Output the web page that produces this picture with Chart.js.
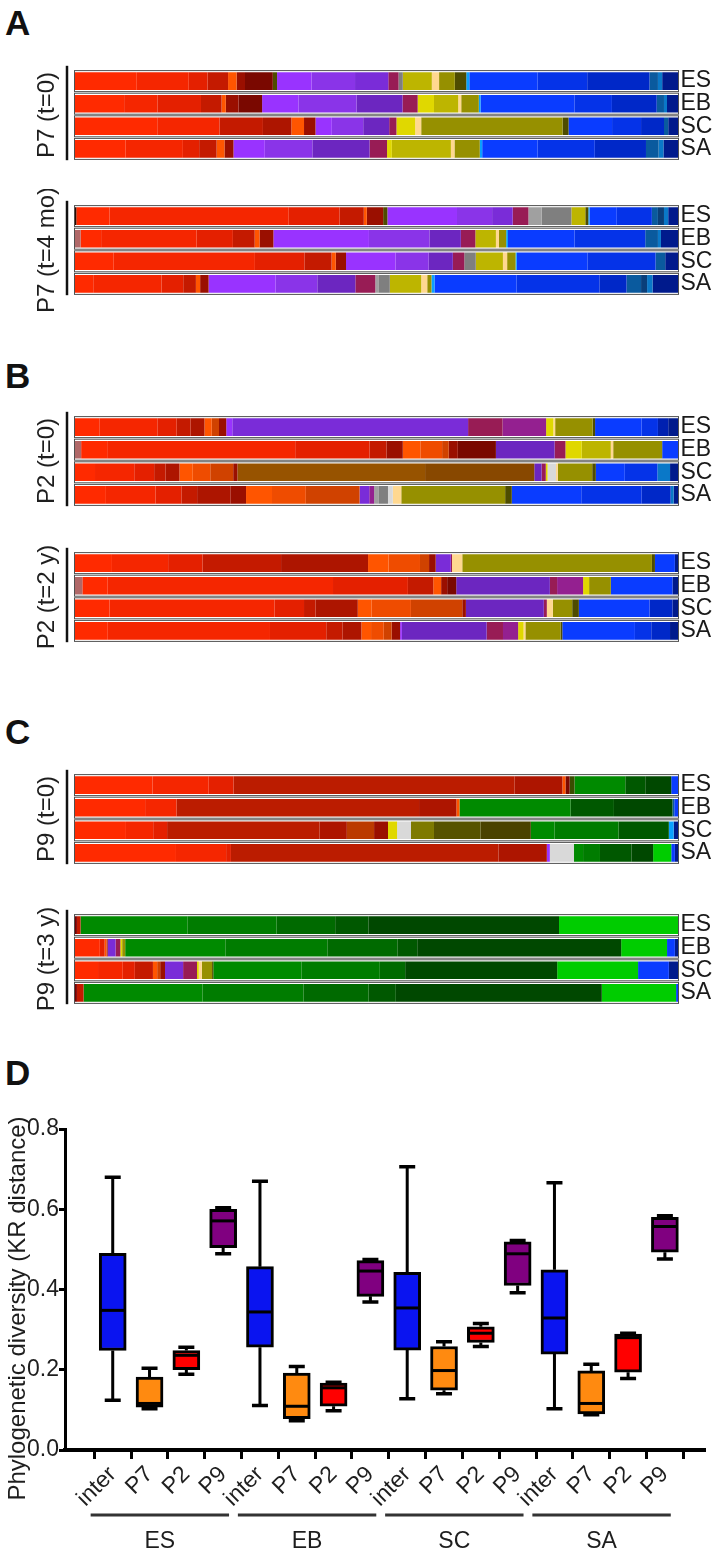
<!DOCTYPE html>
<html>
<head>
<meta charset="utf-8">
<script src="https://cdn.jsdelivr.net/npm/chart.js@4.4.1/dist/chart.umd.min.js"></script>
<style>
  body { margin: 0; background: #fff; }
  #page { position: relative; width: 717px; height: 1557px; overflow: hidden; }
  canvas { position: absolute; left: 0; }
  .panel { position: absolute; left: 5px; font: bold 35px "Liberation Sans", Arial, sans-serif; line-height: 35px; color: #111; }
</style>
</head>
<body>
<div id="page">
  <div class="panel" style="top:5px">A</div>
  <div class="panel" style="top:358px">B</div>
  <div class="panel" style="top:714px">C</div>
  <div class="panel" style="top:1055px">D</div>
  <canvas id="gA1" width="717" height="122" style="top:54px"></canvas>
  <canvas id="gA2" width="717" height="122" style="top:189px"></canvas>
  <canvas id="gB1" width="717" height="122" style="top:400px"></canvas>
  <canvas id="gB2" width="717" height="122" style="top:536px"></canvas>
  <canvas id="gC1" width="717" height="122" style="top:758px"></canvas>
  <canvas id="gC2" width="717" height="122" style="top:898px"></canvas>
  <canvas id="boxD" width="717" height="467" style="top:1090px"></canvas>
</div>
<script>
// ---- panels A-C: relative abundance per taxon (rows ES, EB, SC, SA) ----
const rowLabels = ["ES", "EB", "SC", "SA"];

const palette = {
  r1: "#ff2a00", r2: "#f52600", r3: "#e42000", r4: "#c41a00", r5: "#ad1500", r6: "#9a0f00",
  mr: "#7a0800", rb: "#bb1c00", dr: "#7a0000", dk: "#2a0a00", gb: "#b06868",
  o1: "#ff5500", o2: "#ef4c00", o3: "#d04200", rs: "#bb3a00",
  p1: "#9933ff", p2: "#8a34e8", p3: "#7a2cd8", p4: "#6c26c0", mg: "#981c55", mp: "#942090",
  gy: "#7f7f7f", lg: "#a0a0a0", vl: "#d9d9d9",
  y1: "#e0d800", y2: "#bdb500", cr: "#ffd890", ol: "#969000", do: "#4e4c00",
  ko: "#7e7a00", d2: "#575300", d3: "#4a4200", gd: "#3a4d00", br: "#975300", br2: "#884800",
  cy: "#0aa0ff", b1: "#0a3cff", b2: "#0533e8", b3: "#0028c8", b4: "#0020b0",
  st: "#0a5a9e", s2: "#0a78c8", dst: "#0a3f7a", nv: "#001a8c",
  g1: "#008a00", g2: "#007c00", g3: "#006a00", g4: "#005800", g5: "#004800", gl: "#00cc00"
};

// P7 (t=0)
const p7t0Widths = [
  [10.3, 8.6, 3.1, 3.4, 1.4, 1.4, 4.6, 0.7, 5.7, 7.2, 5.5, 1.7, 0.7, 4.8, 1.2, 2.6, 1.9, 0.5, 11.3, 8.2, 10.3, 1.4, 0.7, 2.7],
  [8.2, 5.5, 7.2, 3.4, 0.7, 2.1, 3.9, 6.0, 9.6, 7.6, 2.5, 2.7, 4.0, 0.5, 2.9, 0.3, 15.5, 6.2, 7.4, 1.2, 0.5, 1.9],
  [13.7, 10.3, 7.2, 4.7, 2.1, 1.9, 2.7, 5.2, 4.3, 1.2, 3.1, 1.0, 23.4, 1.0, 7.2, 4.8, 3.8, 0.7, 1.7],
  [8.5, 9.5, 2.7, 2.9, 1.3, 1.5, 5.2, 7.9, 9.5, 2.9, 0.8, 9.8, 0.6, 4.2, 0.4, 9.2, 9.5, 8.5, 2.1, 0.8, 2.5]
];
const p7t0Taxa = [
  ["r1","r2","r3","r4","o1","r6","mr","do","p1","p2","p3","mg","gy","y2","cr","ol","do","cy","b1","b2","b3","st","s2","nv"],
  ["r1","r2","r3","r4","o1","r6","mr","p1","p2","p4","mg","y1","y2","cr","ol","cy","b1","b2","b3","st","s2","nv"],
  ["r1","r2","r4","r5","o1","r6","p1","p2","p4","mg","y1","cr","ol","do","b1","b2","b3","st","nv"],
  ["r1","r2","r3","r4","o1","r6","p1","p2","p4","mg","y1","y2","cr","ol","cy","b1","b2","b3","st","s2","nv"]
];

// P7 (t=4 mo)
const p7t4Widths = [
  [0.3, 5.5, 29.6, 8.4, 4.0, 0.5, 2.7, 0.7, 11.5, 5.8, 3.4, 2.6, 2.2, 4.9, 2.3, 0.5, 0.2, 4.5, 5.8, 1.0, 1.0, 0.7, 1.7],
  [1.0, 3.4, 15.8, 6.0, 3.6, 0.8, 2.3, 15.8, 10.0, 5.2, 2.4, 3.4, 0.5, 1.2, 0.3, 11.0, 11.7, 2.1, 0.5, 2.9],
  [6.5, 23.4, 8.2, 4.5, 0.7, 1.7, 8.2, 5.5, 4.0, 1.9, 1.9, 4.5, 0.7, 1.4, 0.2, 11.7, 11.3, 1.6, 2.2],
  [3.1, 11.3, 3.6, 2.1, 0.7, 1.4, 11.1, 6.9, 6.3, 3.3, 0.5, 1.9, 5.2, 1.0, 0.7, 0.5, 13.6, 13.7, 4.5, 2.4, 1.0, 0.9, 4.3]
];
const p7t4Taxa = [
  ["dk","r1","r2","r3","r4","o1","r6","do","p1","p2","p3","mg","lg","gy","y2","do","cy","b1","b2","st","dst","s2","nv"],
  ["gb","r1","r2","r3","r4","o1","r6","p1","p2","p4","mg","y2","cr","ol","cy","b1","b2","st","s2","nv"],
  ["r1","r2","r3","r4","o1","r6","p1","p2","p4","mg","gy","y2","cr","ol","cy","b1","b2","st","nv"],
  ["r1","r2","r3","r4","o1","r6","p1","p2","p4","mg","lg","gy","y2","cr","ol","cy","b1","b2","b3","st","dst","s2","nv"]
];

// P2 (t=0)
const p2t0Widths = [
  [4.1, 9.6, 3.2, 2.3, 2.3, 1.2, 1.2, 1.2, 1.0, 39.0, 5.7, 7.2, 1.2, 0.3, 6.2, 0.4, 7.7, 2.7, 1.7, 1.7],
  [1.1, 4.3, 31.1, 12.3, 2.8, 2.7, 2.9, 3.6, 1.1, 1.5, 6.3, 9.7, 1.8, 2.7, 4.8, 0.4, 8.1, 2.7],
  [3.4, 6.5, 3.3, 1.9, 2.3, 2.2, 2.9, 3.8, 0.7, 31.1, 18.1, 1.2, 0.7, 0.3, 1.4, 0.3, 5.7, 0.6, 4.8, 5.4, 2.1, 1.4],
  [5.2, 8.2, 4.3, 2.6, 5.5, 2.6, 4.3, 5.6, 8.9, 1.6, 0.8, 0.8, 1.5, 0.8, 1.4, 17.2, 1.1, 11.5, 10.0, 4.8, 0.5, 0.8]
];
const p2t0Taxa = [
  ["r1","r2","r3","r4","r5","o1","o3","r6","p1","p3","mg","mp","y1","cr","ol","do","b1","b2","b4","nv"],
  ["gb","r1","r2","r3","r4","r6","o1","o2","o3","r6","mr","p4","mg","y1","y2","cr","ol","b1"],
  ["r1","r2","r3","r4","r5","o1","o2","o3","r6","br","br2","p4","mg","y1","vl","cr","ol","do","b1","b2","s2","nv"],
  ["r1","r2","r3","r4","r5","r6","o1","o2","o3","p3","mp","lg","gy","vl","cr","ol","do","b1","b2","b3","s2","nv"]
];

// P2 (t=2 y)
const p2t2Widths = [
  [6.2, 9.3, 5.7, 13.0, 14.4, 3.4, 5.2, 1.5, 1.1, 2.5, 0.2, 1.7, 31.4, 0.5, 3.3, 0.6],
  [1.3, 4.2, 37.3, 12.4, 4.2, 1.3, 1.0, 1.5, 15.5, 1.2, 4.3, 1.0, 3.6, 10.2, 1.0],
  [5.8, 27.3, 4.9, 1.9, 7.0, 2.3, 6.5, 8.5, 0.6, 12.9, 0.5, 1.0, 3.2, 1.1, 11.7, 3.8, 1.0],
  [5.5, 26.8, 9.3, 2.7, 3.1, 1.6, 2.1, 1.3, 1.4, 0.3, 14.0, 2.7, 2.5, 0.9, 0.3, 5.8, 0.3, 12.0, 2.7, 3.1, 1.4]
];
const p2t2Taxa = [
  ["r1","r2","r3","r4","r5","o1","o2","o3","r6","p3","mg","cr","ol","do","b1","nv"],
  ["gb","r1","r2","r3","r4","o1","r6","mr","p4","mg","mp","y1","ol","b1","nv"],
  ["r1","r2","r3","r4","r5","o1","o2","o3","r6","p4","mg","cr","ol","do","b1","b3","nv"],
  ["r1","r2","r3","r4","r5","o1","o2","o3","r6","p1","p4","mg","mp","y1","cr","ol","do","b1","b2","b3","nv"]
];

// P9 (t=0)
const p9t0Widths = [
  [12.9, 9.3, 4.1, 46.5, 7.9, 0.5, 0.7, 0.8, 8.4, 3.3, 4.3, 1.2],
  [11.7, 5.2, 40.2, 6.2, 0.5, 18.4, 7.2, 9.7, 0.3, 0.7],
  [8.5, 4.5, 2.3, 25.2, 4.5, 4.5, 2.3, 1.5, 2.3, 3.8, 7.7, 8.3, 3.9, 10.6, 8.3, 0.8, 0.8],
  [16.8, 8.3, 0.8, 44.3, 8.0, 0.5, 4.0, 1.5, 2.8, 5.2, 3.6, 3.0, 0.6, 0.6]
];
const p9t0Taxa = [
  ["r1","r2","r3","rb","r5","o1","mr","gd","g1","g4","g5","b1"],
  ["r1","r2","rb","r5","o1","g1","g4","g5","st","b1"],
  ["r1","r2","r3","rb","r5","rs","r6","y1","vl","ko","d2","d3","g1","g2","g4","cy","nv"],
  ["r1","r2","r3","rb","r5","p1","vl","g1","g2","g4","g5","gl","b1","nv"]
];

// P9 (t=3 y)
const p9t3Widths = [
  [0.4, 0.6, 17.7, 14.8, 9.7, 5.5, 31.6, 19.8],
  [4.2, 0.8, 0.3, 0.2, 1.3, 0.8, 0.3, 0.5, 16.6, 16.9, 11.6, 3.3, 33.8, 7.6, 1.3, 0.6],
  [3.9, 4.1, 2.0, 3.0, 0.7, 0.5, 0.8, 3.0, 2.3, 0.3, 0.5, 1.7, 0.2, 14.6, 13.0, 4.2, 25.2, 13.4, 5.1, 1.6],
  [0.4, 1.1, 19.7, 16.7, 10.8, 4.5, 34.1, 12.3, 0.4]
];
const p9t3Taxa = [
  ["dr","r4","g1","g2","g3","g4","g5","gl"],
  ["r1","r3","o1","r6","p3","mg","y1","ol","g1","g2","g3","g4","g5","gl","b1","nv"],
  ["r1","r2","r3","r4","o1","o3","r6","p3","mg","y1","cr","ol","do","g1","g2","g3","g5","gl","b1","nv"],
  ["dr","r4","g1","g2","g3","g4","g5","gl","b1"]
];

// ---- panel D: box plots, each entry [min, q1, median, q3, max] for ES, EB, SC, SA ----
const sampleNames = ["ES", "EB", "SC", "SA"];
const boxTypes = ["inter", "P7", "P2", "P9"];
const interStats = [[0.124, 0.248, 0.348, 0.490, 0.680], [0.111, 0.256, 0.344, 0.457, 0.670], [0.128, 0.249, 0.354, 0.443, 0.706], [0.103, 0.239, 0.329, 0.449, 0.666]];
const p7Stats = [[0.103, 0.107, 0.116, 0.182, 0.204], [0.073, 0.078, 0.109, 0.192, 0.208], [0.140, 0.149, 0.198, 0.258, 0.270], [0.088, 0.090, 0.116, 0.197, 0.214]];
const p2Stats = [[0.189, 0.200, 0.236, 0.248, 0.256], [0.098, 0.109, 0.155, 0.167, 0.169], [0.258, 0.268, 0.291, 0.307, 0.315], [0.178, 0.194, 0.280, 0.289, 0.291]];
const p9Stats = [[0.489, 0.504, 0.571, 0.600, 0.604], [0.369, 0.383, 0.446, 0.472, 0.475], [0.392, 0.410, 0.489, 0.519, 0.522], [0.476, 0.493, 0.557, 0.580, 0.584]];
const boxColors = ["#0a14f0", "#ff8a10", "#ff0000", "#800080"];
const yTicks = [0, 0.2, 0.4, 0.6, 0.8];

Chart.defaults.font.family = '"Liberation Sans", Arial, sans-serif';
Chart.defaults.color = "#1e1e1e";

const rowFrame = {
  id: "rowFrame",
  afterDatasetsDraw(chart) {
    const { ctx, scales: { x, y } } = chart;
    ctx.save();
    ctx.strokeStyle = "#505050";
    ctx.lineWidth = 1;
    rowLabels.forEach((_, i) => {
      const yc = y.getPixelForValue(i);
      const x0 = x.getPixelForValue(0), x1 = x.getPixelForValue(100);
      ctx.strokeRect(x0, yc - 10.5, x1 - x0, 21);
    });
    ctx.restore();
  }
};

const groupDeco = {
  id: "groupDeco",
  afterDraw(chart, args, opts) {
    const { ctx, chartArea: a } = chart;
    ctx.save();
    ctx.strokeStyle = "#111";
    ctx.lineWidth = 2.5;
    ctx.beginPath();
    ctx.moveTo(a.left - 7.5, a.top - 4);
    ctx.lineTo(a.left - 7.5, a.bottom);
    ctx.stroke();
    ctx.translate(47, (a.top + a.bottom) / 2);
    ctx.rotate(-Math.PI / 2);
    ctx.font = '24px "Liberation Sans", Arial, sans-serif';
    ctx.fillStyle = "#1e1e1e";
    ctx.textAlign = "center";
    ctx.textBaseline = "middle";
    ctx.fillText(opts.label, 0, 0);
    ctx.restore();
  }
};

function buildGroup(canvasId, label, widths, taxa) {
  const norm = widths.map(r => {
    const s = r.reduce((a, b) => a + b, 0);
    return r.map(v => v * 100 / s);
  });
  const n = Math.max(...norm.map(r => r.length));
  const datasets = [];
  for (let k = 0; k < n; k++) {
    datasets.push({
      data: norm.map(r => r[k] ?? 0),
      backgroundColor: taxa.map(r => palette[r[k]] || "rgba(0,0,0,0)"),
      borderWidth: 0,
      categoryPercentage: 1,
      barPercentage: 21 / 27
    });
  }
  return new Chart(document.getElementById(canvasId), {
    type: "bar",
    data: { labels: rowLabels, datasets },
    plugins: [rowFrame, groupDeco],
    options: {
      indexAxis: "y",
      responsive: false,
      animation: false,
      layout: { padding: { left: 74.5, top: 8, bottom: 6, right: 0 } },
      plugins: { legend: { display: false }, tooltip: { enabled: false }, groupDeco: { label } },
      scales: {
        x: { stacked: true, min: 0, max: 100, display: false },
        y: {
          stacked: true,
          position: "right",
          grid: { display: false, drawTicks: false },
          border: { display: false },
          ticks: { font: { size: 23 }, color: "#1a1a1a", padding: 2, autoSkip: false },
          afterFit(s) { s.width = 38.5; }
        }
      }
    }
  });
}

buildGroup("gA1", "P7 (t=0)", p7t0Widths, p7t0Taxa);
buildGroup("gA2", "P7 (t=4 mo)", p7t4Widths, p7t4Taxa);
buildGroup("gB1", "P2 (t=0)", p2t0Widths, p2t0Taxa);
buildGroup("gB2", "P2 (t=2 y)", p2t2Widths, p2t2Taxa);
buildGroup("gC1", "P9 (t=0)", p9t0Widths, p9t0Taxa);
buildGroup("gC2", "P9 (t=3 y)", p9t3Widths, p9t3Taxa);

// ---- panel D ----
const allStats = [interStats, p7Stats, p2Stats, p9Stats];
const xLabels = [];
sampleNames.forEach(() => boxTypes.forEach(t => xLabels.push(t)));

const boxParts = {
  id: "boxParts",
  beforeDatasetsDraw(chart) {
    const { ctx, scales: { x, y } } = chart;
    ctx.save();
    ctx.strokeStyle = "#000";
    allStats.forEach((stats, t) => stats.forEach((s, g) => {
      const px = x.getPixelForValue(g * 4 + t);
      ctx.lineWidth = 3;
      ctx.beginPath();
      ctx.moveTo(px, y.getPixelForValue(s[0]));
      ctx.lineTo(px, y.getPixelForValue(s[1]));
      ctx.moveTo(px, y.getPixelForValue(s[3]));
      ctx.lineTo(px, y.getPixelForValue(s[4]));
      ctx.stroke();
      ctx.lineWidth = 3.5;
      ctx.beginPath();
      [s[0], s[4]].forEach(v => {
        const py = y.getPixelForValue(v);
        ctx.moveTo(px - 8, py);
        ctx.lineTo(px + 8, py);
      });
      ctx.stroke();
    }));
    ctx.restore();
  },
  afterDatasetsDraw(chart) {
    const { ctx, scales: { x, y } } = chart;
    ctx.save();
    ctx.strokeStyle = "#000";
    ctx.lineWidth = 3;
    allStats.forEach((stats, t) => stats.forEach((s, g) => {
      const px = x.getPixelForValue(g * 4 + t);
      const py = y.getPixelForValue(s[2]);
      ctx.beginPath();
      ctx.moveTo(px - 13, py);
      ctx.lineTo(px + 13, py);
      ctx.stroke();
    }));
    ctx.restore();
  },
  afterDraw(chart) {
    const { ctx, chartArea: a, scales: { x } } = chart;
    ctx.save();
    ctx.strokeStyle = "#333";
    ctx.lineWidth = 3;
    ctx.fillStyle = "#1e1e1e";
    ctx.font = '23px "Liberation Sans", Arial, sans-serif';
    ctx.textAlign = "center";
    ctx.textBaseline = "middle";
    sampleNames.forEach((name, g) => {
      const x0 = x.getPixelForValue(g * 4 - 0.6);
      const x1 = x.getPixelForValue(g * 4 + 3.16);
      ctx.beginPath();
      ctx.moveTo(x0, a.bottom + 65);
      ctx.lineTo(x1, a.bottom + 65);
      ctx.stroke();
      ctx.fillText(name, (x0 + x1) / 2, a.bottom + 92);
    });
    // y axis title
    ctx.translate(18, (a.top + a.bottom) / 2 + 19);
    ctx.rotate(-Math.PI / 2);
    ctx.font = '24px "Liberation Sans", Arial, sans-serif';
    ctx.fillText("Phylogenetic diversity (KR distance)", 0, 0);
    ctx.restore();
  }
};

new Chart(document.getElementById("boxD"), {
  type: "bar",
  data: {
    datasets: boxTypes.map((t, ti) => ({
      label: t,
      data: sampleNames.map((_, g) => ({ x: g * 4 + ti, y: [allStats[ti][g][1], allStats[ti][g][3]] })),
      backgroundColor: boxColors[ti],
      borderColor: "#000",
      borderWidth: 3,
      borderSkipped: false,
      barThickness: 27,
      grouped: false
    }))
  },
  plugins: [boxParts],
  options: {
    responsive: false,
    animation: false,
    layout: { padding: { top: 39, right: 13, left: 0, bottom: 0 } },
    plugins: { legend: { display: false }, tooltip: { enabled: false } },
    scales: {
      x: {
        type: "linear",
        min: -0.754,
        max: 15.52,
        afterBuildTicks(s) { s.ticks = xLabels.map((_, i) => ({ value: i })); },
        ticks: {
          autoSkip: false,
          minRotation: 45,
          maxRotation: 45,
          padding: 2,
          font: { size: 23 },
          color: "#1e1e1e",
          callback: v => xLabels[v]
        },
        grid: { drawOnChartArea: false, drawTicks: true, tickLength: 9, lineWidth: 3, color: "#000" },
        border: { display: true, width: 4, color: "#000" },
        afterFit(s) { s.height = 107; }
      },
      y: {
        min: 0,
        max: 0.8,
        afterBuildTicks(s) { s.ticks = yTicks.map(v => ({ value: v })); },
        ticks: { font: { size: 23 }, color: "#1e1e1e", padding: 0, callback: v => Number(v).toFixed(1) },
        grid: { drawOnChartArea: false, drawTicks: true, tickLength: 6, lineWidth: 3, color: "#000" },
        border: { display: true, width: 3, color: "#000" },
        afterFit(s) { s.width = 65; }
      }
    }
  }
});
</script>
</body>
</html>
